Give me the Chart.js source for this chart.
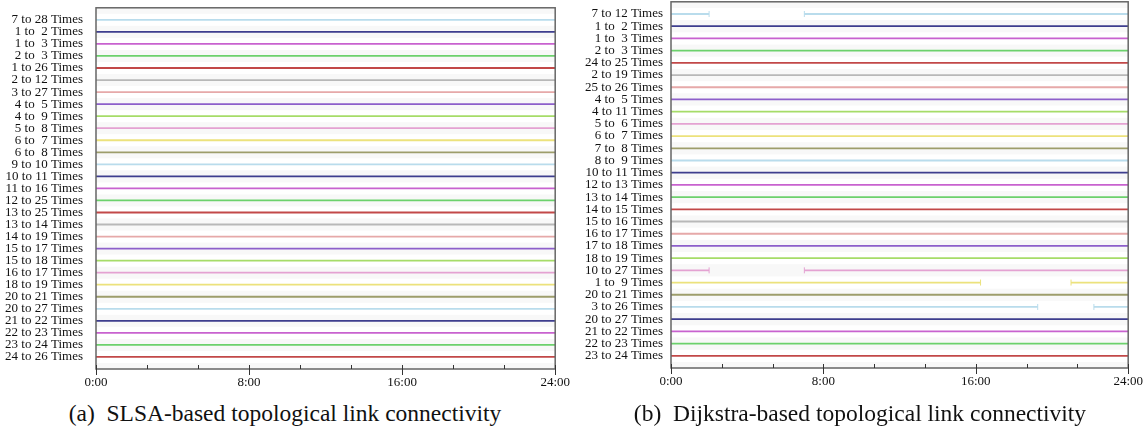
<!DOCTYPE html>
<html>
<head>
<meta charset="utf-8">
<script src="https://cdn.jsdelivr.net/npm/chart.js@4/dist/chart.umd.min.js"></script>
<style>
  body { margin: 0; background: #fff; }
  #wrap { position: relative; width: 1146px; height: 437px; overflow: hidden; }
  .panel { position: absolute; }
  .caption {
    position: absolute; top: 400px; text-align: center;
    font-family: "Liberation Serif", serif; font-size: 23.5px; color: #111;
    white-space: pre;
  }
</style>
</head>
<body>
<div id="wrap">
  <div class="panel" style="left:0px;top:-13px"><canvas id="slsaChart" width="576" height="405"></canvas></div>
  <div class="panel" style="left:575px;top:-14px"><canvas id="dijkstraChart" width="574" height="405"></canvas></div>
  <div class="caption" style="left:0px;width:570px">(a)  SLSA-based topological link connectivity</div>
  <div class="caption" style="left:575px;width:570px">(b)  Dijkstra-based topological link connectivity</div>
</div>
<script>
// links shown on each panel, top to bottom
const slsaLinks = [
  '7 to 28 Times', '1 to  2 Times', '1 to  3 Times', '2 to  3 Times', '1 to 26 Times',
  '2 to 12 Times', '3 to 27 Times', '4 to  5 Times', '4 to  9 Times', '5 to  8 Times',
  '6 to  7 Times', '6 to  8 Times', '9 to 10 Times', '10 to 11 Times', '11 to 16 Times',
  '12 to 25 Times', '13 to 25 Times', '13 to 14 Times', '14 to 19 Times', '15 to 17 Times',
  '15 to 18 Times', '16 to 17 Times', '18 to 19 Times', '20 to 21 Times', '20 to 27 Times',
  '21 to 22 Times', '22 to 23 Times', '23 to 24 Times', '24 to 26 Times'
];
const dijkstraLinks = [
  '7 to 12 Times', '1 to  2 Times', '1 to  3 Times', '2 to  3 Times', '24 to 25 Times',
  '2 to 19 Times', '25 to 26 Times', '4 to  5 Times', '4 to 11 Times', '5 to  6 Times',
  '6 to  7 Times', '7 to  8 Times', '8 to  9 Times', '10 to 11 Times', '12 to 13 Times',
  '13 to 14 Times', '14 to 15 Times', '15 to 16 Times', '16 to 17 Times', '17 to 18 Times',
  '18 to 19 Times', '10 to 27 Times', '1 to  9 Times', '20 to 21 Times', '3 to 26 Times',
  '20 to 27 Times', '21 to 22 Times', '22 to 23 Times', '23 to 24 Times'
];

// links that drop out (hours)
const dijkstraBrokenLinks = ['7 to 12 Times', '10 to 27 Times', '1 to  9 Times', '3 to 26 Times'];
const dijkstraDownFrom = [2.0, 2.0, 16.25, 19.25];
const dijkstraDownTo = [7.0, 7.0, 21.0, 22.2];

const dayStart = 0;
const dayEnd = 24;
const hourTickLabels = ['0:00', '8:00', '16:00', '24:00'];

const palette = ['#b9dcec', '#3e3e8e', '#c862cf', '#6cd16c', '#c24848', '#b8b8b8',
                 '#e6a9a9', '#8d5fca', '#a6dc68', '#e4a2d2', '#ece27c', '#9d9d6b'];

const serif = '"Liberation Serif", "Times New Roman", serif';

function buildDatasets(links, broken, downFrom, downTo) {
  return links.map((name, i) => {
    const k = broken.indexOf(name);
    let data, radius;
    if (k >= 0) {
      data = [
        { x: dayStart, y: i }, { x: downFrom[k], y: i },
        { x: (downFrom[k] + downTo[k]) / 2, y: null },
        { x: downTo[k], y: i }, { x: dayEnd, y: i }
      ];
      radius = [0, 3, 0, 3, 0];
    } else {
      data = [{ x: dayStart, y: i }, { x: dayEnd, y: i }];
      radius = 0;
    }
    const color = palette[i % palette.length];
    return {
      label: name,
      data: data,
      borderColor: color,
      backgroundColor: color,
      borderWidth: 1.8,
      pointRadius: radius,
      pointStyle: 'line',
      rotation: 90,
      pointBorderColor: color,
      pointBorderWidth: 1,
      spanGaps: false
    };
  });
}

// faint bands, frame and the little inward ticks
const framePlugin = {
  id: 'frame',
  beforeDatasetsDraw(chart) {
    const { ctx, chartArea: a, scales: { y } } = chart;
    ctx.save();
    ctx.fillStyle = '#f8f8f8';
    for (let i = -1; i <= 29; i += 2) {
      const t = Math.max(y.getPixelForValue(i - 0.5), a.top);
      const b = Math.min(y.getPixelForValue(i + 0.5), a.bottom);
      if (b > t) ctx.fillRect(a.left, t, a.right - a.left, b - t);
    }
    ctx.restore();
  },
  afterDraw(chart) {
    const { ctx, chartArea: a, scales: { x } } = chart;
    ctx.save();
    ctx.strokeStyle = '#666';
    ctx.lineWidth = 1.5;
    ctx.strokeRect(a.left, a.top, a.right - a.left, a.bottom - a.top);
    ctx.strokeStyle = '#333';
    ctx.lineWidth = 1;
    x.ticks.forEach(t => {
      const px = Math.round(x.getPixelForValue(t.value)) + 0.5;
      const major = Math.abs(t.value / 8 - Math.round(t.value / 8)) < 1e-6;
      ctx.beginPath();
      ctx.moveTo(px, a.bottom - 4);
      ctx.lineTo(px, major ? a.bottom + 6 : a.bottom);
      ctx.stroke();
    });
    ctx.restore();
  }
};

function makeChart(id, links, datasets, labelGap) {
  return new Chart(document.getElementById(id), {
    type: 'line',
    data: { datasets: datasets },
    options: {
      responsive: false,
      animation: false,
      layout: { padding: 0 },
      plugins: { legend: { display: false }, tooltip: { enabled: false } },
      scales: {
        x: {
          type: 'linear',
          min: dayStart,
          max: dayEnd,
          afterBuildTicks(scale) {
            const ticks = [];
            for (let k = 0; k <= 9; k++) ticks.push({ value: k * 8 / 3 });
            scale.ticks = ticks;
          },
          afterFit(scale) { scale.height = 23; },
          grid: { display: false, drawTicks: false },
          border: { display: false },
          ticks: {
            autoSkip: false,
            maxRotation: 0,
            padding: 6,
            color: '#111',
            font: { family: serif, size: 13 },
            callback(v) {
              const q = v / 8;
              return Math.abs(q - Math.round(q)) < 1e-6 ? hourTickLabels[Math.round(q)] : '';
            }
          }
        },
        y: {
          type: 'linear',
          reverse: true,
          min: -1,
          max: 29,
          afterBuildTicks(scale) {
            scale.ticks = links.map((_, i) => ({ value: i }));
          },
          afterFit(scale) { scale.width = 96; },
          grid: { display: false, drawTicks: false },
          border: { display: false },
          ticks: {
            autoSkip: false,
            padding: labelGap,
            color: '#111',
            font: { family: serif, size: 13 },
            callback(v) { return links[v] || ''; }
          }
        }
      }
    },
    plugins: [framePlugin]
  });
}

makeChart('slsaChart', slsaLinks, buildDatasets(slsaLinks, [], [], []), 13);
makeChart('dijkstraChart', dijkstraLinks,
  buildDatasets(dijkstraLinks, dijkstraBrokenLinks, dijkstraDownFrom, dijkstraDownTo), 8);
</script>
</body>
</html>
